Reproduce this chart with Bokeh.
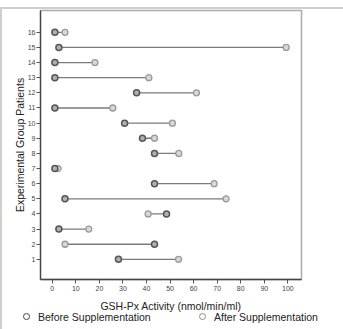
from bokeh.plotting import figure
from bokeh.layouts import column
from bokeh.models import ColumnDataSource, FixedTicker, Range1d, Div
from bokeh.embed import file_html
from bokeh.resources import INLINE

# GSH-Px activity per patient, before and after supplementation
patients = list(range(1, 17))
before = [28.1, 43.4, 2.8, 48.5, 5.4, 43.4, 1.1, 43.4, 38.3, 30.7, 1.1, 35.8, 1.1, 1.1, 2.8, 1.1]
after = [53.6, 5.4, 15.5, 40.7, 73.8, 68.7, 2.5, 53.7, 43.4, 51.0, 25.7, 61.2, 41.0, 18.1, 99.3, 5.4]
x_ticks = list(range(0, 101, 10))
series_labels = ["Before Supplementation", "After Supplementation"]

src = ColumnDataSource(dict(patient=patients, before=before, after=after))

BEFORE_FILL, BEFORE_LINE = "#b0b0b0", "#555555"
AFTER_FILL, AFTER_LINE = "#d8d8d8", "#9a9a9a"
FONT = "Liberation Sans"

p = figure(width=341, height=305, x_range=Range1d(-5, 105.8), y_range=Range1d(-0.33, 17.44),
           output_backend="svg", toolbar_location=None,
           min_border_left=38, min_border_right=42, min_border_top=1, min_border_bottom=32)

p.grid.visible = False
p.background_fill_color = "white"
p.border_fill_color = "white"
p.outline_line_color = "#aaaaaa"
p.outline_line_width = 1.5

# connecting segments
p.segment(x0="before", y0="patient", x1="after", y1="patient", source=src,
          line_color="#7a7a7a", line_width=1.3)
# markers
p.scatter(x="after", y="patient", source=src, marker="circle", size=6,
          fill_color=AFTER_FILL, line_color=AFTER_LINE, line_width=1.3)
p.scatter(x="before", y="patient", source=src, marker="circle", size=6,
          fill_color=BEFORE_FILL, line_color=BEFORE_LINE, line_width=1.5)

for ax in (p.xaxis[0], p.yaxis[0]):
    ax.minor_tick_line_color = None
    ax.major_tick_in = 0
    ax.major_tick_out = 4
    ax.major_tick_line_color = "#555555"
    ax.axis_line_color = "#444444"
    ax.axis_line_width = 1.3
    ax.major_label_text_font = FONT
    ax.major_label_text_font_size = "7px"
    ax.major_label_text_color = "#444444"
    ax.major_label_standoff = 2
    ax.axis_label_text_font = FONT
    ax.axis_label_text_font_size = "10.5px"
    ax.axis_label_text_font_style = "normal"
    ax.axis_label_text_color = "#222222"

p.xaxis.major_label_standoff = 2
p.xaxis.axis_label_standoff = 6
p.yaxis.major_label_standoff = 1
p.yaxis.axis_label_standoff = -1
p.xaxis.ticker = FixedTicker(ticks=x_ticks)
p.yaxis.ticker = FixedTicker(ticks=patients)
p.xaxis.axis_label = "GSH-Px Activity (nmol/min/ml)"
p.yaxis.axis_label = "Experimental Group Patients"

# key strip beneath the chart: hollow circle + label per series
def key_item(left, ring, label):
    return (f'<span style="position:absolute;left:{left}px;top:-1px;width:7px;height:7px;'
            f'border:1.7px solid {ring};border-radius:50%;"></span>'
            f'<span style="position:absolute;left:{left + 15}px;top:-3px;line-height:13px;">{label}</span>')

key_html = ('<div style="position:relative;width:341px;height:15px;'
            f'font-family:\'{FONT}\';font-size:10.5px;color:#222222;white-space:nowrap;">'
            + key_item(21, "#444444", series_labels[0])
            + key_item(197, "#8a8a8a", series_labels[1])
            + '</div>')
key = Div(text=key_html, width=341, height=15, margin=0)

layout = column(p, key, spacing=0,
                styles={"border-left": "2px solid #cfcfcf",
                        "border-top": "2px solid #cfcfcf",
                        "margin-top": "7px"})

open("out.html", "w").write(file_html(layout, INLINE))
